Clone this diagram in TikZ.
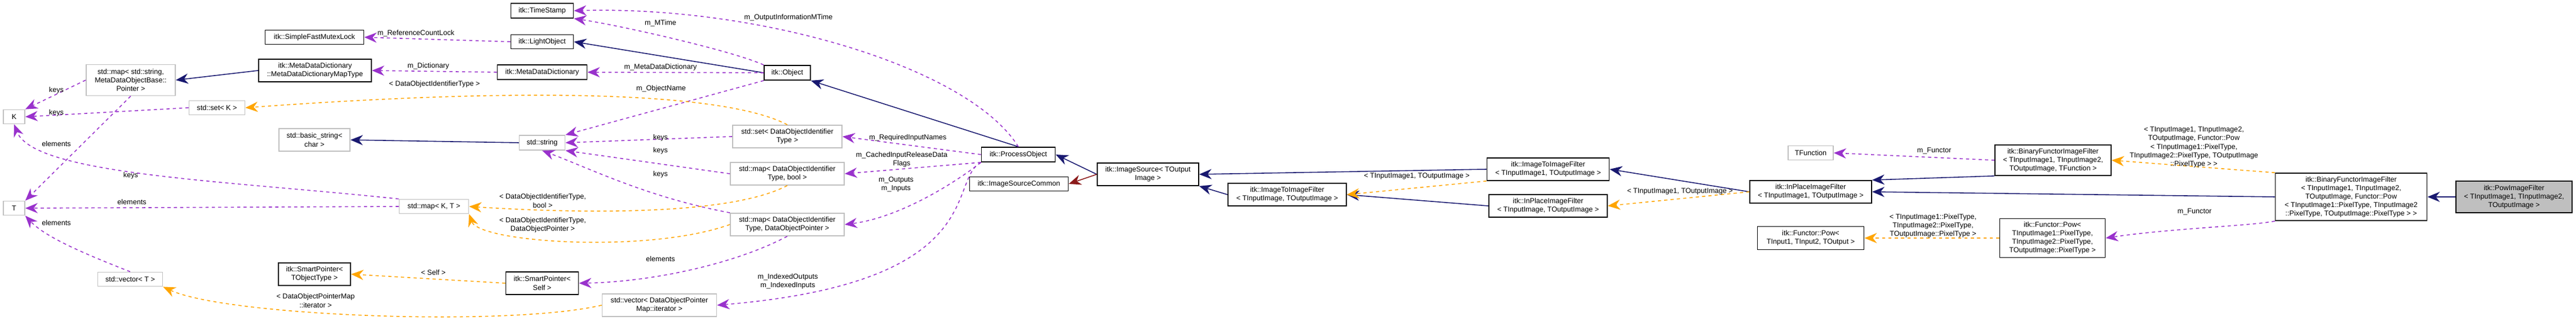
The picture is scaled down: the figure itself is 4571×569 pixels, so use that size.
\documentclass[tikz,border=0pt]{standalone}
\usepackage{fontspec}
\setmainfont{Liberation Sans}
\usetikzlibrary{positioning,arrows.meta}

\definecolor{inhblue}{RGB}{25,25,112}
\definecolor{usepurple}{RGB}{153,50,204}
\definecolor{tplorange}{RGB}{255,165,0}
\definecolor{privred}{RGB}{139,26,26}

\begin{document}
\begin{tikzpicture}[x=0.1mm,y=-0.1mm,>={Stealth[length=2.2mm,width=1.8mm]},
	every node/.style={font=\fontsize{3.6}{4.3}\selectfont, inner sep=1pt, align=center},
	cls/.style={draw=black, line width=0.5pt, fill=white},
	std/.style={draw=gray!50, line width=0.5pt, fill=white},
	lbl/.style={},
	inh/.style={->, draw=inhblue, line width=0.45pt},
	use/.style={->, draw=usepurple, line width=0.45pt, dash pattern=on 1.6pt off 1.6pt},
	tpl/.style={->, draw=tplorange, line width=0.45pt, dash pattern=on 1.6pt off 1.6pt}]
	\useasboundingbox (0,0) rectangle (4571,569);
	
	% left column
	\node[std, minimum width=3.8mm, minimum height=2.5mm] (K) at (25,207) {K};
	\node[std, minimum width=3.8mm, minimum height=2.5mm] (T) at (25,369) {T};
	\node[std, minimum width=15.8mm, minimum height=5.5mm] (mapSS) at (232,142) {std::map\textless{} std::string,\\MetaDataObjectBase::\\Pointer \textgreater};
	\node[std, minimum width=9.9mm, minimum height=2.5mm] (setK) at (385,191) {std::set\textless{} K \textgreater};
	\node[std, minimum width=11.5mm, minimum height=2.5mm] (vecT) at (231,495) {std::vector\textless{} T \textgreater};
	
	% second column
	\node[cls, minimum width=17.5mm, minimum height=2.5mm] (mutex) at (558,66) {itk::SimpleFastMutexLock};
	\node[cls, minimum width=20mm, minimum height=4mm] (mdmap) at (559,125) {itk::MetaDataDictionary\\::MetaDataDictionaryMapType};
	\node[std, minimum width=12.6mm, minimum height=4mm] (basic) at (558,248) {std::basic\_string\textless\\char \textgreater};
	\node[std, minimum width=12.3mm, minimum height=2.5mm] (mapKT) at (770,366) {std::map\textless{} K, T \textgreater};
	\node[cls, minimum width=12.8mm, minimum height=4mm] (spObj) at (558,486) {itk::SmartPointer\textless\\TObjectType \textgreater};
	
	% third column
	\node[cls, minimum width=11.1mm, minimum height=2.6mm] (stamp) at (962,19) {itk::TimeStamp};
	\node[cls, minimum width=11.1mm, minimum height=2.5mm] (light) at (962,74) {itk::LightObject};
	\node[cls, minimum width=15.9mm, minimum height=2.6mm] (mddict) at (962,128) {itk::MetaDataDictionary};
	\node[std, minimum width=8.1mm, minimum height=2.6mm] (string) at (962,253) {std::string};
	\node[cls, minimum width=12.9mm, minimum height=4mm] (spSelf) at (962,502) {itk::SmartPointer\textless\\Self \textgreater};
	
	% fourth column
	\node[cls, minimum width=8.2mm, minimum height=2.6mm] (object) at (1397,129) {itk::Object};
	\node[std, minimum width=19.4mm, minimum height=4mm] (setDOIT) at (1397,242) {std::set\textless{} DataObjectIdentifier\\Type \textgreater};
	\node[std, minimum width=20.2mm, minimum height=4mm] (mapB) at (1397,308) {std::map\textless{} DataObjectIdentifier\\Type, bool \textgreater};
	\node[std, minimum width=20.2mm, minimum height=4mm] (mapP) at (1397,398) {std::map\textless{} DataObjectIdentifier\\Type, DataObjectPointer \textgreater};
	\node[std, minimum width=20.3mm, minimum height=4mm] (vecIter) at (1170,541) {std::vector\textless{} DataObjectPointer\\Map::iterator \textgreater};
	
	% pipeline
	\node[cls, minimum width=13.1mm, minimum height=2.6mm] (proc) at (1807,274) {itk::ProcessObject};
	\node[cls, minimum width=17.5mm, minimum height=2.5mm] (common) at (1808,326) {itk::ImageSourceCommon};
	\node[cls, minimum width=18mm, minimum height=4mm] (imgsrc) at (2037,309) {itk::ImageSource\textless{} TOutput\\Image \textgreater};
	\node[cls, minimum width=21mm, minimum height=4mm] (itif) at (2284,345) {itk::ImageToImageFilter\\\textless{} TInputImage, TOutputImage \textgreater};
	\node[cls, minimum width=21.7mm, minimum height=4mm] (itif1) at (2747,300) {itk::ImageToImageFilter\\\textless{} TInputImage1, TOutputImage \textgreater};
	\node[cls, minimum width=21mm, minimum height=4mm] (inplace) at (2747,365) {itk::InPlaceImageFilter\\\textless{} TInputImage, TOutputImage \textgreater};
	\node[cls, minimum width=21.6mm, minimum height=4mm] (inplace1) at (3213,340) {itk::InPlaceImageFilter\\\textless{} TInputImage1, TOutputImage \textgreater};
	\node[std, minimum width=8mm, minimum height=2.5mm] (tfunc) at (3213,271) {TFunction};
	\node[cls, minimum width=18.9mm, minimum height=4.1mm] (powT) at (3213,422) {itk::Functor::Pow\textless\\TInput1, TInput2, TOutput \textgreater};
	\node[cls, minimum width=20.6mm, minimum height=5.4mm] (bfTF) at (3643,284) {itk::BinaryFunctorImageFilter\\\textless{} TInputImage1, TInputImage2,\\TOutputImage, TFunction \textgreater};
	\node[cls, minimum width=18.7mm, minimum height=6.9mm] (powPix) at (3642,422) {itk::Functor::Pow\textless\\TInputImage1::PixelType,\\TInputImage2::PixelType,\\TOutputImage::PixelType \textgreater};
	\node[cls, minimum width=26.9mm, minimum height=8.4mm] (bfPow) at (4172,349) {itk::BinaryFunctorImageFilter\\\textless{} TInputImage1, TInputImage2,\\TOutputImage, Functor::Pow\\\textless{} TInputImage1::PixelType, TInputImage2\\::PixelType, TOutputImage::PixelType \textgreater{} \textgreater};
	\node[cls, fill=gray!50, minimum width=20.6mm, minimum height=5.6mm] (pow) at (4461,349) {itk::PowImageFilter\\\textless{} TInputImage1, TInputImage2,\\TOutputImage \textgreater};
	
	% inheritance
	\draw[inh] (object.west) -- (light.east);
	\draw[inh] (proc.north) -- (object.south east);
	\draw[inh] (string.west) -- (basic.east);
	\draw[inh] (mdmap.west) -- (mapSS.east);
	\draw[inh] (imgsrc.west) -- (proc.east);
	\draw[->, draw=privred, line width=0.45pt] (imgsrc.west) -- (common.east);
	\draw[inh] (itif.west) -- (imgsrc.south east);
	\draw[inh] (itif1.west) -- (imgsrc.east);
	\draw[inh] (inplace.west) -- (itif.east);
	\draw[inh] (inplace1.west) -- (itif1.east);
	\draw[inh] (bfTF.south west) -- (inplace1.north east);
	\draw[inh] (bfPow.west) -- (inplace1.east);
	\draw[inh] (pow.west) -- (bfPow.east);
	
	% members
	\draw[use] (light.west) -- (mutex.east);
	\draw[use] (object.north west) .. controls (1300,90) and (1100,45) .. (stamp.south east);
	\draw[use] (proc.north) .. controls (1720,120) and (1350,10) .. (stamp.east);
	\draw[use] (mddict.west) -- (mdmap.east);
	\draw[use] (object.west) -- (mddict.east);
	\draw[use] (object.south west) -- (string.north east);
	\draw[use] (setDOIT.west) -- (string.east);
	\draw[use] (mapB.west) -- (string.south east);
	\draw[use] (mapP.north west) .. controls (1150,350) and (1050,300) .. (string.south);
	\draw[use] (mapSS.west) -- (K.north east);
	\draw[use] (setK.west) -- (K.east);
	\draw[use] (mapKT.north west) .. controls (400,320) and (60,310) .. (K.south);
	\draw[use] (mapSS.south) -- (T.north east);
	\draw[use] (mapKT.west) -- (T.east);
	\draw[use] (vecT.north) .. controls (150,450) and (80,420) .. (T.south east);
	\draw[use] (proc.west) -- (setDOIT.east);
	\draw[use] (proc.south west) -- (mapB.east);
	\draw[use] (proc.south west) .. controls (1700,320) and (1600,385) .. (mapP.east);
	\draw[use] (proc.south west) .. controls (1680,320) and (1760,500) .. (vecIter.east);
	\draw[use] (mapP.south) .. controls (1300,470) and (1150,500) .. (spSelf.east);
	\draw[use] (bfTF.west) -- (tfunc.east);
	\draw[use] (bfPow.south west) .. controls (4000,400) and (3850,405) .. (powPix.east);
	
	% template instances
	\draw[tpl] (setDOIT.north) .. controls (1300,170) and (1000,150) .. (setK.east);
	\draw[tpl] (mapB.south) .. controls (1300,380) and (1050,380) .. (mapKT.east);
	\draw[tpl] (mapP.west) .. controls (1150,450) and (850,430) .. (mapKT.south east);
	\draw[tpl] (spSelf.west) -- (spObj.east);
	\draw[tpl] (vecIter.west) .. controls (900,580) and (400,560) .. (vecT.south east);
	\draw[tpl] (itif1.south west) -- (itif.east);
	\draw[tpl] (inplace1.west) -- (inplace.east);
	\draw[tpl] (powPix.west) -- (powT.east);
	\draw[tpl] (bfPow.north west) -- (bfTF.east);
	
	% labels
	\node[lbl] (lCount) at (738,59) {m\_ReferenceCountLock};
	\node[lbl] (lMTime) at (1172,41) {m\_MTime};
	\node[lbl] (lOutMT) at (1399,31) {m\_OutputInformationMTime};
	\node[lbl] (lDict) at (760,117) {m\_Dictionary};
	\node[lbl] (lMeta) at (1172,119) {m\_MetaDataDictionary};
	\node[lbl] (lName) at (1173,157) {m\_ObjectName};
	\node[lbl] (lDOIT) at (771,149) {\textless{} DataObjectIdentifierType \textgreater};
	\node[lbl] (lk1) at (100,160) {keys};
	\node[lbl] (lk2) at (100,200) {keys};
	\node[lbl] (le1) at (100,255) {elements};
	\node[lbl] (lk3) at (232,311) {keys};
	\node[lbl] (le2) at (234,358) {elements};
	\node[lbl] (le3) at (100,395) {elements};
	\node[lbl] (lk4) at (1172,244) {keys};
	\node[lbl] (lk5) at (1172,267) {keys};
	\node[lbl] (lk6) at (1172,309) {keys};
	\node[lbl] (lBool) at (963,356) {\textless{} DataObjectIdentifierType,\\bool \textgreater};
	\node[lbl] (lPtr) at (963,399) {\textless{} DataObjectIdentifierType,\\DataObjectPointer \textgreater};
	\node[lbl] (le4) at (1172,459) {elements};
	\node[lbl] (lSelf) at (769,483) {\textless{} Self \textgreater};
	\node[lbl] (lIter) at (560,533) {\textless{} DataObjectPointerMap\\::iterator \textgreater};
	\node[lbl] (lIdx) at (1398,499) {m\_IndexedOutputs\\m\_IndexedInputs};
	\node[lbl] (lReq) at (1611,244) {m\_RequiredInputNames};
	\node[lbl] (lCache) at (1600,283) {m\_CachedInputReleaseData\\Flags};
	\node[lbl] (lIO) at (1590,327) {m\_Outputs\\m\_Inputs};
	\node[lbl] (lTI1) at (2514,312) {\textless{} TInputImage1, TOutputImage \textgreater};
	\node[lbl] (lTI2) at (2981,339) {\textless{} TInputImage1, TOutputImage \textgreater};
	\node[lbl] (lF1) at (3432,267) {m\_Functor};
	\node[lbl] (lF2) at (3894,375) {m\_Functor};
	\node[lbl] (lPix) at (3430,400) {\textless{} TInputImage1::PixelType,\\TInputImage2::PixelType,\\TOutputImage::PixelType \textgreater};
	\node[lbl] (lBig) at (3893,261) {\textless{} TInputImage1, TInputImage2,\\TOutputImage, Functor::Pow\\\textless{} TInputImage1::PixelType,\\TInputImage2::PixelType, TOutputImage\\::PixelType \textgreater{} \textgreater};
\end{tikzpicture}
\end{document}
